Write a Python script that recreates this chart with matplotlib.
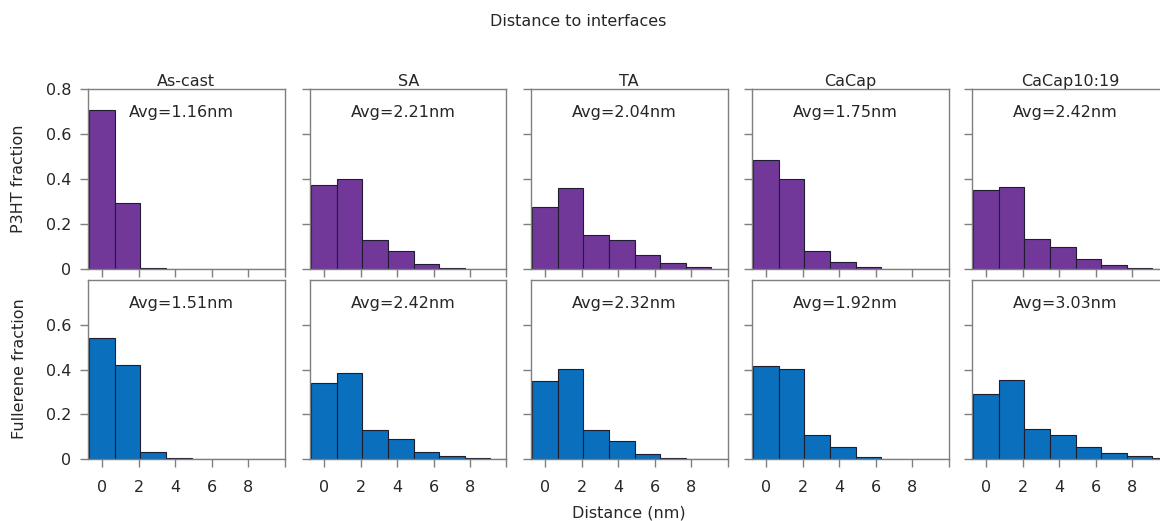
import matplotlib
matplotlib.use("Agg")
import matplotlib.pyplot as plt

# ---- data ----
conditions = ["As-cast", "SA", "TA", "CaCap", "CaCap10:19"]
bin_centers = [0.0, 1.4, 2.8, 4.2, 5.6, 7.0, 8.4, 9.8]
bin_width = 1.4

p3ht_ascast = [0.706, 0.294, 0.005, 0.0, 0.0, 0.0, 0.0, 0.0]
p3ht_sa = [0.375, 0.401, 0.128, 0.080, 0.022, 0.003, 0.0, 0.0]
p3ht_ta = [0.274, 0.358, 0.152, 0.130, 0.064, 0.027, 0.010, 0.002]
p3ht_cacap = [0.486, 0.402, 0.080, 0.031, 0.008, 0.002, 0.0, 0.0]
p3ht_cacap1019 = [0.349, 0.365, 0.133, 0.100, 0.043, 0.018, 0.005, 0.001]

full_ascast = [0.543, 0.420, 0.031, 0.003, 0.0, 0.0, 0.0, 0.0]
full_sa = [0.340, 0.386, 0.128, 0.088, 0.031, 0.012, 0.003, 0.001]
full_ta = [0.349, 0.403, 0.128, 0.081, 0.024, 0.006, 0.002, 0.0]
full_cacap = [0.416, 0.404, 0.107, 0.054, 0.010, 0.002, 0.001, 0.0]
full_cacap1019 = [0.291, 0.352, 0.134, 0.109, 0.054, 0.027, 0.015, 0.006]

p3ht_avg = ["1.16", "2.21", "2.04", "1.75", "2.42"]
full_avg = ["1.51", "2.42", "2.32", "1.92", "3.03"]

p3ht_rows = [p3ht_ascast, p3ht_sa, p3ht_ta, p3ht_cacap, p3ht_cacap1019]
full_rows = [full_ascast, full_sa, full_ta, full_cacap, full_cacap1019]

xticks = [0, 2, 4, 6, 8, 10]
xticklabels = ["0", "2", "4", "6", "8", ""]
top_yticks = [0, 0.2, 0.4, 0.6, 0.8]
top_yticklabels = ["0", "0.2", "0.4", "0.6", "0.8"]
bot_yticks = [0, 0.2, 0.4, 0.6]
bot_yticklabels = ["0", "0.2", "0.4", "0.6"]

# ---- style ----
W, H = 1160, 521
purple = "#71389A"
blue = "#0A6FBD"
edge = "#1e1e30"
spine_col = "#7f7f7f"
text_col = "#262626"
fs = 11.5

plt.rcParams["font.family"] = ["DejaVu Sans"]
plt.rcParams["text.color"] = text_col

fig = plt.figure(figsize=(W / 100, H / 100), dpi=100)

col_left = [88, 310, 531, 752, 972]
ax_w = 196.5
rows_px = [(89, 269), (280, 459)]  # (top, bottom) in pixels


def make_ax(left_px, top_px, bot_px):
    return fig.add_axes([left_px / W, 1 - bot_px / H, ax_w / W, (bot_px - top_px) / H])


for r, (data_rows, avgs, color) in enumerate(
    [(p3ht_rows, p3ht_avg, purple), (full_rows, full_avg, blue)]
):
    top_px, bot_px = rows_px[r]
    for c in range(5):
        ax = make_ax(col_left[c], top_px, bot_px)
        ax.bar(bin_centers, data_rows[c], width=bin_width, color=color,
               edgecolor=edge, linewidth=0.8, align="center")
        ax.set_xlim(-0.78, 10.0)
        ax.set_ylim(0, 0.8)
        ax.set_xticks(xticks)
        for s in ax.spines.values():
            s.set_color(spine_col)
            s.set_linewidth(1.0)
        ax.tick_params(direction="out", length=6, width=1.0, color=spine_col,
                       labelcolor=text_col, labelsize=fs)
        ax.tick_params(axis="x", pad=9)
        ax.tick_params(axis="y", pad=6)
        if r == 0:
            ax.set_yticks(top_yticks)
            ax.set_yticklabels(top_yticklabels if c == 0 else [""] * len(top_yticks))
            ax.set_xticklabels([""] * len(xticks))
            ax.set_title(conditions[c], fontsize=fs, pad=1, color=text_col)
        else:
            ax.set_yticks(bot_yticks)
            ax.set_yticklabels(bot_yticklabels if c == 0 else [""] * len(bot_yticks))
            ax.set_xticklabels(xticklabels)
        ax.text(0.475, 0.868, f"Avg={avgs[c]}nm", transform=ax.transAxes,
                ha="center", va="center", fontsize=fs, color=text_col)

fig.text(578 / W, 1 - 21 / H, "Distance to interfaces", ha="center", va="center",
         fontsize=fs, color=text_col)
fig.text(629 / W, 1 - 513 / H, "Distance (nm)", ha="center", va="center",
         fontsize=fs, color=text_col)
fig.text(19 / W, 1 - 179 / H, "P3HT fraction", ha="center", va="center",
         rotation=90, fontsize=fs, color=text_col)
fig.text(20 / W, 1 - 369 / H, "Fullerene fraction", ha="center", va="center",
         rotation=90, fontsize=fs, color=text_col)

fig.savefig("out.png", dpi=100)
